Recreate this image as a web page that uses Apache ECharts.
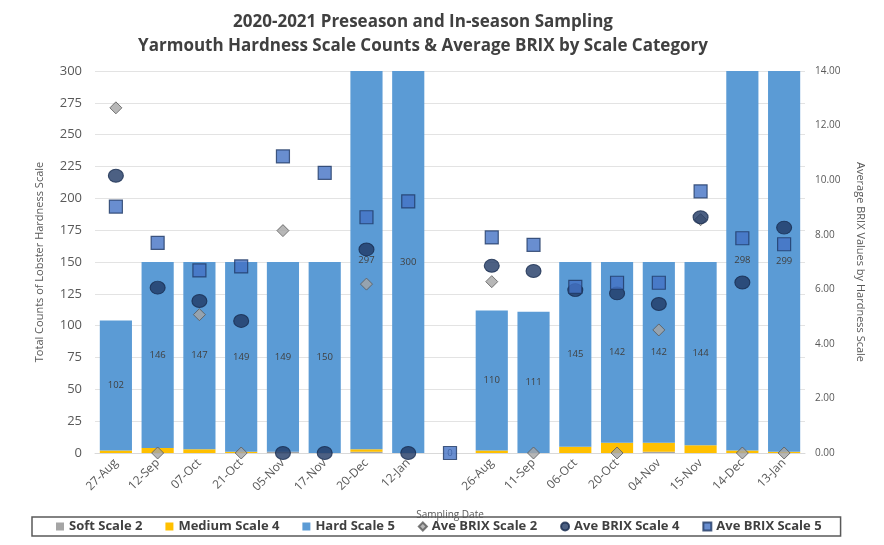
<!DOCTYPE html>
<html>
<head>
<meta charset="utf-8">
<script src="https://cdn.jsdelivr.net/npm/echarts@6/dist/echarts.min.js"></script>
<style>html,body{margin:0;padding:0;background:#fff;}#c{width:884px;height:545px;}</style>
</head>
<body>
<div id="c"></div>
<script>
var categories = ['27-Aug','12-Sep','07-Oct','21-Oct','05-Nov','17-Nov','20-Dec','12-Jan','','26-Aug','11-Sep','06-Oct','20-Oct','04-Nov','15-Nov','14-Dec','13-Jan'];
var softScale2 = [0,0,0,0,1,0,1,0,0,0,0,0,0,1,0,0,0];
var mediumScale4 = [2,4,3,1,0,0,2,0,0,2,0,5,8,7,6,2,1];
var hardScale5 = [102,146,147,149,149,150,297,300,0,110,111,145,142,142,144,298,299];
var brixScale2 = [12.65,0,5.07,0,8.15,null,6.19,null,null,6.28,0,null,0,4.51,8.55,0,0];
var brixScale4 = [10.16,6.06,5.57,4.84,0,0,7.46,0,null,6.86,6.67,5.97,5.85,5.46,8.64,6.25,8.26];
var brixScale5 = [9.03,7.70,6.69,6.84,10.87,10.27,8.64,9.22,0,7.90,7.63,6.09,6.24,6.24,9.59,7.87,7.65];
var leftTicks = {min:0, max:300, interval:25};
var rightTicks = {min:0, max:14, interval:2};

var chart = echarts.init(document.getElementById('c'));
var fontFam = 'Open Sans, Noto Sans, sans-serif';
chart.setOption({
  animation:false,
  backgroundColor:'#fff',
  textStyle:{fontFamily:fontFam},
  title:{
    text:'2020-2021 Preseason and In-season Sampling\nYarmouth Hardness Scale Counts & Average BRIX by Scale Category',
    left:418, textAlign:'center', top:5,
    textStyle:{fontSize:17, fontWeight:'bold', color:'#404040', lineHeight:24, fontFamily:fontFam}
  },
  legend:{
    left:32, top:517,
    padding:[3,19,3,24],
    borderColor:'#595959', borderWidth:1.5,
    itemWidth:8, itemHeight:8, itemGap:23,
    textStyle:{fontSize:13, fontWeight:'bold', color:'#404040', fontFamily:fontFam},
    data:[
      {name:'Soft Scale 2', icon:'rect'},
      {name:'Medium Scale 4', icon:'rect'},
      {name:'Hard Scale 5', icon:'rect'},
      {name:'Ave BRIX Scale 2', icon:'diamond'},
      {name:'Ave BRIX Scale 4', icon:'circle'},
      {name:'Ave BRIX Scale 5', icon:'rect'}
    ]
  },
  grid:{left:95, right:79, top:71, bottom:92},
  xAxis:{
    type:'category', data:categories,
    name:'Sampling Date', nameLocation:'middle', nameGap:57,
    nameTextStyle:{fontSize:10, color:'#595959'},
    axisLine:{lineStyle:{color:'#d9d9d9'}},
    axisTick:{show:false},
    axisLabel:{rotate:45, fontSize:12, color:'#595959', margin:8, interval:0}
  },
  yAxis:[{
    type:'value', min:leftTicks.min, max:leftTicks.max, interval:leftTicks.interval,
    name:'Total Counts of Lobster Hardness Scale', nameLocation:'middle', nameGap:50, nameRotate:90,
    nameTextStyle:{fontSize:11, color:'#595959'},
    axisLine:{show:false}, axisTick:{show:false},
    axisLabel:{fontSize:13, color:'#595959', margin:13},
    splitLine:{lineStyle:{color:'#e3e3e3', width:1}}
  },{
    type:'value', min:rightTicks.min, max:rightTicks.max, interval:rightTicks.interval,
    name:'Average BRIX Values by Hardness Scale', nameLocation:'middle', nameGap:50, nameRotate:-90,
    nameTextStyle:{fontSize:11, color:'#595959'},
    axisLine:{show:false}, axisTick:{show:false},
    axisLabel:{fontSize:10, color:'#595959', margin:10, formatter:function(v){return v.toFixed(2);}},
    splitLine:{show:false}
  }],
  series:[
    {name:'Soft Scale 2', type:'bar', stack:'t', data:softScale2, barCategoryGap:'23%', itemStyle:{color:'#a5a5a5'}},
    {name:'Medium Scale 4', type:'bar', stack:'t', data:mediumScale4, itemStyle:{color:'#ffc000'}},
    {name:'Hard Scale 5', type:'bar', stack:'t', data:hardScale5, itemStyle:{color:'#5b9bd5'},
      label:{show:true, position:'inside', fontSize:9.5, color:'#404040'}},
    {name:'Ave BRIX Scale 2', type:'scatter', yAxisIndex:1, data:brixScale2, symbol:'diamond', symbolSize:[12,12],
      itemStyle:{color:'#a5a5a5', borderColor:'#595959', borderWidth:1}, z:5},
    {name:'Ave BRIX Scale 4', type:'scatter', yAxisIndex:1, data:brixScale4, symbol:'circle', symbolSize:[15,13],
      itemStyle:{color:'#1f3864', borderColor:'#172a4d', borderWidth:1}, z:6},
    {name:'Ave BRIX Scale 5', type:'scatter', yAxisIndex:1, data:brixScale5, symbol:'rect', symbolSize:[13,13],
      itemStyle:{color:'#4472c4', borderColor:'#1f3864', borderWidth:1.2}, z:7}
  ]
});
</script>
</body>
</html>
